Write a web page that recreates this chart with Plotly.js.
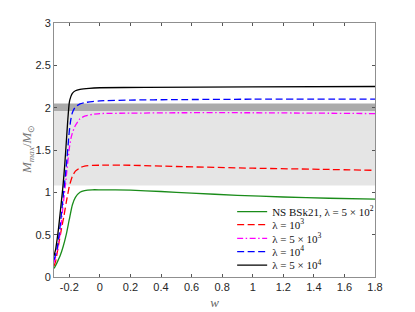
<!DOCTYPE html>
<html><head><meta charset="utf-8">
<script src="https://cdn.plot.ly/plotly-3.0.1.min.js"></script>
<style>html,body{margin:0;padding:0;background:#fff}#c{width:415px;height:312px}</style>
</head><body><div id="c"></div>
<script>
const wBlack = [-0.3,-0.29,-0.28,-0.27,-0.26,-0.25,-0.24,-0.23,-0.22,-0.21,-0.2,-0.19,-0.18,-0.16,-0.13,-0.07,0,0.3,1,1.8];
const mBlack = [0.25,0.32,0.44,0.58,0.75,0.92,1.1,1.32,1.58,1.85,2.06,2.13,2.17,2.2,2.215,2.228,2.235,2.24,2.245,2.25];
const wBlue = [-0.3,-0.28,-0.26,-0.24,-0.22,-0.2,-0.19,-0.18,-0.16,-0.13,-0.1,-0.05,0,0.2,0.5,1,1.8];
const mBlue = [0.2,0.33,0.6,0.95,1.3,1.72,1.86,1.94,2.01,2.045,2.06,2.072,2.08,2.09,2.095,2.1,2.1];
const wMag = [-0.3,-0.28,-0.26,-0.24,-0.22,-0.2,-0.19,-0.18,-0.17,-0.16,-0.13,-0.1,-0.05,0,0.2,0.5,1,1.8];
const mMag = [0.17,0.3,0.52,0.85,1.18,1.52,1.63,1.7,1.75,1.79,1.87,1.9,1.92,1.93,1.935,1.94,1.94,1.93];
const wRed = [-0.3,-0.29,-0.27,-0.25,-0.235,-0.22,-0.2,-0.18,-0.16,-0.13,-0.1,-0.05,0,0.2,0.5,1,1.5,1.8];
const mRed = [0.13,0.18,0.38,0.58,0.72,0.88,1.07,1.19,1.25,1.29,1.31,1.318,1.32,1.32,1.305,1.285,1.27,1.26];
const wGreen = [-0.3,-0.28,-0.26,-0.24,-0.22,-0.2,-0.18,-0.16,-0.13,-0.1,-0.05,0,0.2,0.4,0.6,0.9,1.2,1.5,1.8];
const mGreen = [0.1,0.17,0.25,0.36,0.5,0.68,0.85,0.94,1.0,1.02,1.03,1.03,1.025,1.01,0.99,0.965,0.945,0.93,0.92];
const lightBand = [1.08, 1.96];
const darkBand = [1.96, 2.05];
const xTickVals = [-0.2,0,0.2,0.4,0.6,0.8,1,1.2,1.4,1.6,1.8];
const xTickText = ['-0.2','0','0.2','0.4','0.6','0.8','1','1.2','1.4','1.6','1.8'];
const yTickVals = [0,0.5,1,1.5,2,2.5,3];
const yTickText = ['0','0.5','1','1.5','2','2.5','3'];
const names = ['NS BSk21, λ = 5 × 10<sup>2</sup>','λ = 10<sup>3</sup>','λ = 5 × 10<sup>3</sup>','λ = 10<sup>4</sup>','λ = 5 × 10<sup>4</sup>'];
const yTitle = '<i>M<sub>max</sub></i>/<i>M</i><sub>⊙</sub>';

const sm = {shape:'spline', smoothing:0.5, width:1.3};
const legendIds = ['legend','legend2','legend3','legend4','legend5'];
const traces = [
  {x:wGreen,y:mGreen,name:names[0],legend:legendIds[0],mode:'lines',line:Object.assign({color:'#1a8c1a'},sm)},
  {x:wRed,y:mRed,name:names[1],legend:legendIds[1],mode:'lines',line:Object.assign({color:'#ff0000',dash:'7px,3.5px'},sm)},
  {x:wMag,y:mMag,name:names[2],legend:legendIds[2],mode:'lines',line:Object.assign({color:'#ff00ff',dash:'6px,2.5px,1.5px,2.5px'},sm)},
  {x:wBlue,y:mBlue,name:names[3],legend:legendIds[3],mode:'lines',line:Object.assign({color:'#0000ff',dash:'7px,3.5px'},sm)},
  {x:wBlack,y:mBlack,name:names[4],legend:legendIds[4],mode:'lines',line:Object.assign({color:'#000000'},sm)}
];
const axisCommon = {showgrid:false, zeroline:false, showline:true, linecolor:'#8f8f8f', linewidth:1, mirror:'ticks', ticks:'inside', ticklen:3, tickcolor:'#555', tickfont:{family:'Liberation Sans, Arial', size:11, color:'#262626'}};
const layout = {
  width:415, height:312, margin:{l:54, r:40, t:23, b:35},
  paper_bgcolor:'#fff', plot_bgcolor:'#fff', showlegend:true,
  xaxis:Object.assign({range:[-0.3,1.8], tickvals:xTickVals, ticktext:xTickText,
    title:{text:'<i>w</i>', font:{family:'Liberation Serif', size:13, color:'#666'}, standoff:5}}, axisCommon),
  yaxis:Object.assign({range:[0,3], tickvals:yTickVals, ticktext:yTickText}, axisCommon),
  annotations:[{text:yTitle, xref:'paper', yref:'paper', x:-0.084, y:0.5, xanchor:'center', yanchor:'middle', textangle:-90, showarrow:false,
    font:{family:'Liberation Serif', size:13, color:'#777'}}],
  shapes:[
    {type:'rect', xref:'paper', yref:'y', x0:0, x1:1, y0:lightBand[0], y1:lightBand[1], fillcolor:'#e5e5e5', line:{width:0}, layer:'below'},
    {type:'rect', xref:'paper', yref:'y', x0:0, x1:1, y0:darkBand[0], y1:darkBand[1], fillcolor:'#ababab', line:{width:0}, layer:'below'}
  ]
};
const legY = [0.257, 0.206, 0.152, 0.0996, 0.047];
legendIds.forEach((id, i) => {
  layout[id] = {x:0.555, xanchor:'left', y:legY[i], yanchor:'middle', bgcolor:'rgba(0,0,0,0)', borderwidth:0,
    font:{family:'Liberation Serif', size:11, color:'#111'}, itemwidth:30};
});
Plotly.newPlot('c', traces, layout, {staticPlot:true, displayModeBar:false});
</script></body></html>
